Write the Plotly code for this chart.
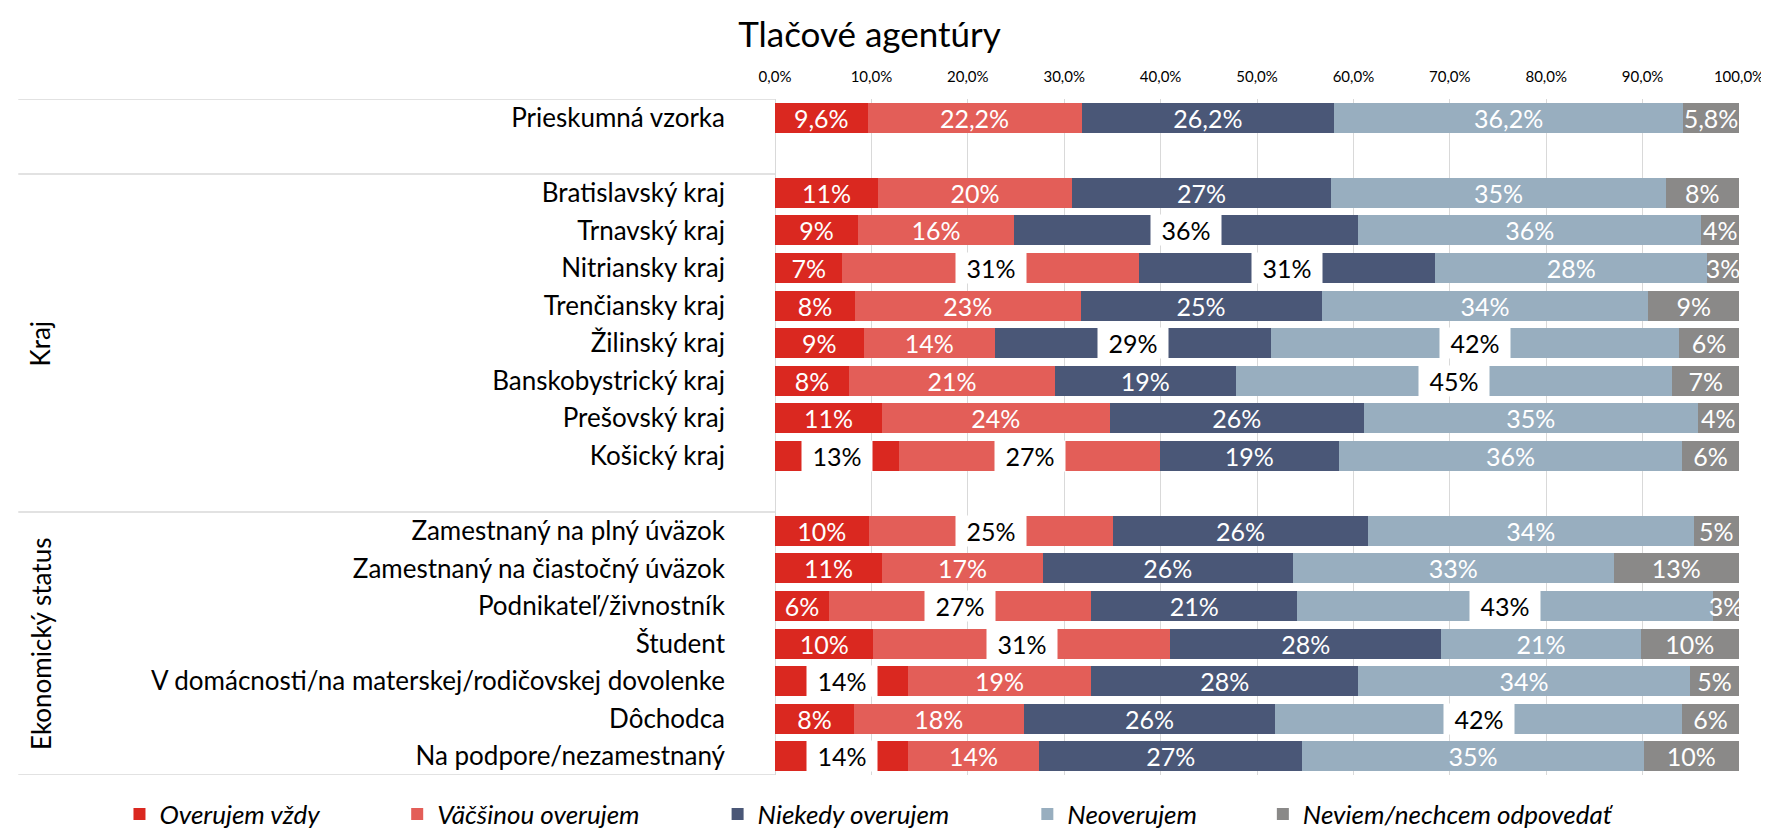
import plotly.graph_objects as go

categories = [
    "Prieskumná vzorka", " ",
    "Bratislavský kraj", "Trnavský kraj", "Nitriansky kraj", "Trenčiansky kraj",
    "Žilinský kraj", "Banskobystrický kraj", "Prešovský kraj", "Košický kraj", "  ",
    "Zamestnaný na plný úväzok", "Zamestnaný na čiastočný úväzok", "Podnikateľ/živnostník",
    "Študent", "V domácnosti/na materskej/rodičovskej dovolenke", "Dôchodca",
    "Na podpore/nezamestnaný",
]
rows = [c for c in categories if c.strip()]

series_names = ["Overujem vždy", "Väčšinou overujem", "Niekedy overujem", "Neoverujem",
                "Neviem/nechcem odpovedať"]
colors = ["#DA2820", "#E35E58", "#4A5777", "#98AEBF", "#8A8988"]

overujem_vzdy = [9.6, 10.7, 8.6, 7.0, 8.3, 9.2, 7.7, 11.1, 12.9, 9.7, 11.1, 5.6, 10.2, 13.8, 8.2, 13.8]
vacsinou = [22.2, 20.1, 16.2, 30.8, 23.4, 13.6, 21.3, 23.6, 27.0, 25.4, 16.7, 27.2, 30.8, 19.0, 17.6, 13.6]
niekedy = [26.2, 26.9, 35.7, 30.7, 25.0, 28.6, 18.8, 26.4, 18.6, 26.4, 25.9, 21.4, 28.1, 27.7, 26.1, 27.3]
neoverujem = [36.2, 34.7, 35.6, 28.2, 33.9, 42.4, 45.3, 34.6, 35.6, 33.8, 33.3, 43.1, 20.7, 34.4, 42.2, 35.4]
neviem = [5.8, 7.6, 3.9, 3.3, 9.4, 6.2, 6.9, 4.3, 5.9, 4.7, 13.0, 2.7, 10.2, 5.1, 5.9, 9.9]
series_values = [overujem_vzdy, vacsinou, niekedy, neoverujem, neviem]

# labels drawn on a white box (row name, series index)
boxed_labels = [
    ("Trnavský kraj", 2), ("Nitriansky kraj", 1), ("Nitriansky kraj", 2),
    ("Žilinský kraj", 2), ("Žilinský kraj", 3), ("Banskobystrický kraj", 3),
    ("Košický kraj", 0), ("Košický kraj", 1), ("Zamestnaný na plný úväzok", 1),
    ("Podnikateľ/živnostník", 1), ("Podnikateľ/živnostník", 3), ("Študent", 1),
    ("V domácnosti/na materskej/rodičovskej dovolenke", 0), ("Dôchodca", 3),
    ("Na podpore/nezamestnaný", 0),
]

x_ticks = [0, 10, 20, 30, 40, 50, 60, 70, 80, 90, 100]
x_tick_labels = ["0,0%", "10,0%", "20,0%", "30,0%", "40,0%", "50,0%", "60,0%", "70,0%",
                 "80,0%", "90,0%", "100,0%"]

FONT = "Lato, 'Open Sans', sans-serif"
CAT_SIZE = 26
DATA_SIZE = 25
legend_pad = [12, 12, 12, 10, 0]


def fmt(v, row):
    if row == "Prieskumná vzorka":
        return f"{v:.1f}".replace(".", ",") + "%"
    return f"{int(round(v))}%"


fig = go.Figure()
annotations = []
for si, (name, vals, col) in enumerate(zip(series_names, series_values, colors)):
    texts = []
    for ri, row in enumerate(rows):
        t = fmt(vals[ri], row)
        if (row, si) in boxed_labels:
            start = sum(series_values[k][ri] for k in range(si))
            annotations.append(dict(
                x=start + vals[ri] / 2, y=row, xref="x", yref="y", text=t,
                showarrow=False, bgcolor="white", width=70, height=30, borderpad=0,
                font=dict(family=FONT, size=DATA_SIZE, color="black"),
            ))
            texts.append("")
        else:
            texts.append(t)
    name_disp = name + "\u00a0" * legend_pad[si]
    fig.add_trace(go.Bar(
        y=rows, x=vals, name=name_disp, orientation="h",
        marker=dict(color=col, line=dict(width=0)),
        text=texts, textposition="inside", insidetextanchor="middle",
        constraintext="none", textangle=0,
        textfont=dict(family=FONT, size=DATA_SIZE, color="white"),
        hoverinfo="skip",
    ))

# group labels
for label, ypos in [("Kraj", 6), ("Ekonomický status", 14)]:
    annotations.append(dict(x=-0.762, y=ypos, xref="paper", yref="y", text=label,
                            textangle=-90, showarrow=False, xanchor="center",
                            yanchor="middle",
                            font=dict(family=FONT, size=CAT_SIZE, color="black")))

shapes = []
for yv in [-0.5, 1.5, 10.5, 17.5]:
    shapes.append(dict(type="line", xref="paper", yref="y", x0=-0.785, x1=0, y0=yv, y1=yv,
                       line=dict(color="#D9D9D9", width=1.5)))

fig.update_layout(
    width=1769, height=833,
    paper_bgcolor="white", plot_bgcolor="white",
    barmode="stack", bargap=0.2,
    margin=dict(l=767, r=38, t=91, b=66, autoexpand=False),
    title=dict(text="Tlačové agentúry", x=0.487, xref="container", y=0.968, yref="container",
               xanchor="center", yanchor="middle",
               font=dict(family=FONT, size=35, color="black")),
    xaxis=dict(side="top", range=[0, 100], tickvals=x_ticks, ticktext=x_tick_labels,
               showgrid=True, gridcolor="#D9D9D9", gridwidth=1, zeroline=True,
               zerolinecolor="#D9D9D9", zerolinewidth=1, showline=False, ticks="",
               ticklabelstandoff=13,
               tickfont=dict(family=FONT, size=15, color="black"), fixedrange=True),
    yaxis=dict(categoryorder="array", categoryarray=categories, range=[17.5, -0.5],
               showgrid=False, zeroline=False, showline=False, ticks="",
               ticklabelstandoff=49,
               tickfont=dict(family=FONT, size=CAT_SIZE, color="black")),
    legend=dict(orientation="h", x=-0.68, xref="paper", xanchor="left",
                y=-0.058, yref="paper", yanchor="middle",
                font=dict(family=FONT, size=CAT_SIZE, color="black", style="italic"),
                traceorder="normal"),
    annotations=annotations,
    shapes=shapes,
)

fig.write_html("out.html")
